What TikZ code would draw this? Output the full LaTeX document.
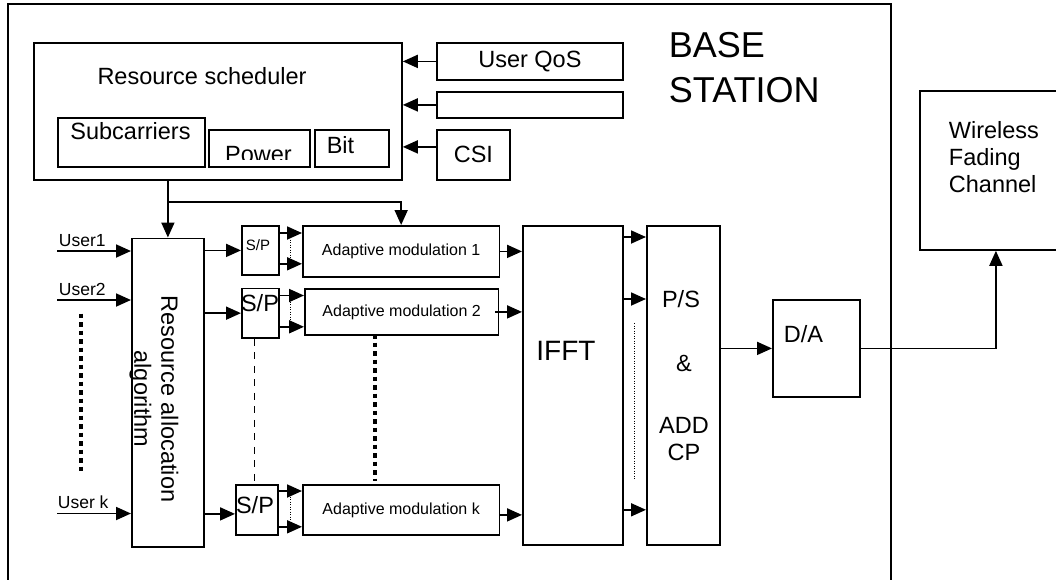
\documentclass[tikz,border=0pt]{standalone}
\usepackage{fontspec}
\setmainfont{Liberation Sans}
\usetikzlibrary{arrows.meta}

\begin{document}
\begin{tikzpicture}[x=1pt, y=-1pt, line width=1.8pt,
    blk/.style={draw, anchor=north west, inner sep=0pt},
    lbl/.style={font=\fontsize{23.5}{27}\selectfont, inner sep=0pt},
    small/.style={font=\fontsize{16}{18}\selectfont, inner sep=0pt},
    usr/.style={font=\fontsize{17.5}{20}\selectfont, inner sep=0pt, anchor=base west},
    arr/.style={-{Triangle[length=15pt, width=13pt]}},
    bigdots/.style={line width=4.5pt, dash pattern=on 4.5pt off 4pt},
    fine/.style={line width=0.9pt, dash pattern=on 1pt off 1.5pt}]
  \useasboundingbox (0,0) rectangle (1056,579);
  % base station frame, open at the bottom
  \draw (8,600) |- (891,4) -- (891,600);
  \node[font=\fontsize{36}{45}\selectfont, inner sep=0pt, anchor=base west] (bstxt) at (668,57)
    {\begin{tabular}[t]{@{}l@{}}BASE\\STATION\end{tabular}};

  % scheduler and its inputs
  \node[blk, minimum width=368pt, minimum height=137pt] (sched) at (33,42) {};
  \node[lbl, anchor=base] (schedtxt) at (202,84.5) {Resource scheduler};
  \node[blk, minimum width=147pt, minimum height=49pt] (subc) at (57,117) {};
  \node[lbl, anchor=base] (subctxt) at (130.5,139) {Subcarriers};
  \node[blk, minimum width=101pt, minimum height=37pt] (pow) at (208,129) {};
  \begin{scope}
    \clip (208,129) rectangle (309,159);
    \node[lbl, anchor=base] (powtxt) at (258.5,162) {Power};
  \end{scope}
  \node[blk, minimum width=74pt, minimum height=37pt] (bit) at (314,129) {};
  \node[lbl, anchor=base] (bittxt) at (340.5,153) {Bit};
  \node[blk, lbl, minimum width=186pt, minimum height=37pt] (qos) at (436,42) {User QoS};
  \node[blk, minimum width=186pt, minimum height=26pt] (blank) at (436,91) {};
  \node[blk, lbl, minimum width=73pt, minimum height=50pt] (csi) at (436,129) {CSI};
  \draw[arr] (qos.west) -- (qos.west -| sched.east);
  \draw[arr] (blank.west) -- (blank.west -| sched.east);
  \draw[arr] ([yshift=8pt]csi.west) -- ([yshift=8pt]csi.west -| sched.east);

  % users and allocation
  \node[blk, minimum width=72pt, minimum height=308.5pt] (raa) at (131,237.5) {};
  \node[lbl, rotate=-90, align=center] (raatxt) at (154,399) {Resource allocation\\algorithm};
  \node[usr] (u1) at (58,246) {User1};
  \node[usr] (u2) at (58,295) {User2};
  \node[usr] (uk) at (57,508) {User k};
  \coordinate (in1) at (57,251);
  \coordinate (in2) at (57,300);
  \coordinate (ink) at (57,513.5);
  \draw[arr] (in1) -- (in1 -| raa.west);
  \draw[arr] (in2) -- (in2 -| raa.west);
  \draw[arr] (ink) -- (ink -| raa.west);
  \draw[bigdots] (81,313.5) -- (81,471);
  \coordinate (split) at (raa.north |- 0,202);
  \draw[arr] (raa.north |- sched.south) -- (raa.north);

  % serial to parallel
  \node[blk, minimum width=37pt, minimum height=49pt] (sp1) at (241,225) {};
  \node[blk, minimum width=37pt, minimum height=49.5pt] (sp2) at (241,287.5) {};
  \node[blk, minimum width=42pt, minimum height=50pt] (spk) at (235,484) {};
  \node[font=\fontsize{15}{18}\selectfont, inner sep=0pt, anchor=base] (sp1txt) at (258,250) {S/P};
  \node[lbl, anchor=base] (sp2txt) at (260,311) {S/P};
  \node[lbl, anchor=base] (spktxt) at (255,513.5) {S/P};
  \draw[arr] (raa.east |- sp1.west) -- (sp1.west);
  \draw[arr] (raa.east |- sp2.west) -- (sp2.west);
  \draw[arr] ([yshift=-4pt]spk.west -| raa.east) -- ([yshift=-4pt]spk.west);
  \draw[line width=1.5pt, dash pattern=on 7pt off 6.5pt] ([xshift=-6pt]sp2.south) -- ([xshift=-6pt]sp2.south |- spk.north);

  % adaptive modulation
  \node[blk, small, minimum width=196.5pt, minimum height=51pt] (am1) at (302,225) {Adaptive modulation 1};
  \node[blk, small, minimum width=193.5pt, minimum height=46pt] (am2) at (304,288) {Adaptive modulation 2};
  \node[blk, small, minimum width=196.5pt, minimum height=50pt] (amk) at (302,484) {Adaptive modulation k};
  \draw[arr] (split) -| (am1.north);
  \draw[arr] ([yshift=-8pt]sp1.north east) -- ([yshift=-8pt]sp1.north east -| am1.west);
  \draw[arr] ([yshift=12pt]sp1.south east) -- ([yshift=12pt]sp1.south east -| am1.west);
  \draw[arr] ([yshift=-8pt]sp2.north east) -- ([yshift=-8pt]sp2.north east -| am2.west);
  \draw[arr] ([yshift=12pt]sp2.south east) -- ([yshift=12pt]sp2.south east -| am2.west);
  \draw[arr] ([yshift=-7pt]spk.north east) -- ([yshift=-7pt]spk.north east -| amk.west);
  \draw[arr] ([yshift=9pt]spk.south east) -- ([yshift=9pt]spk.south east -| amk.west);
  \draw[fine] (290,237) -- (290,258);
  \draw[fine] (290,299) -- (290,321);
  \draw[fine] (290,494) -- (290,521);
  \draw[bigdots] (375,334) -- (375,481);

  % ifft, p/s, d/a
  \node[blk, minimum width=100pt, minimum height=319pt] (ifft) at (522,225) {};
  \node[font=\fontsize{28}{32}\selectfont, inner sep=0pt, anchor=base] (iffttxt) at (566,360) {IFFT};
  \node[blk, minimum width=73pt, minimum height=319pt] (ps) at (646,225) {};
  \node[lbl, anchor=base] (pstxt) at (681,307) {P/S};
  \node[lbl, anchor=base] (andtxt) at (684,371) {\&};
  \node[lbl, anchor=base] (cptxt) at (684,433) {\begin{tabular}[t]{@{}c@{}}ADD\\CP\end{tabular}};
  \draw[arr] (am1.east) -- (am1.east -| ifft.west);
  \draw[arr] ([xshift=-4pt]am2.east) -- (am2.east -| ifft.west);
  \draw[arr] ([yshift=-5pt]amk.east) -- ([yshift=-5pt]amk.east -| ifft.west);
  \draw[arr] ([yshift=-12pt]ifft.north east) -- ([yshift=-12pt]ifft.north east -| ps.west);
  \draw[arr] (ifft.east |- 0,299) -- (ps.west |- 0,299);
  \draw[arr] ([yshift=36pt]ifft.south east) -- ([yshift=36pt]ifft.south east -| ps.west);
  \draw[fine] (634,323) -- (634,480);
  \node[blk, minimum width=87pt, minimum height=97pt] (da) at (772,299) {};
  \node[lbl, anchor=base west] (datxt) at (783,342) {D/A};
  \draw[arr] (ps.east |- da.west) -- (da.west);

  % channel
  \node[blk, minimum width=152pt, minimum height=159pt] (wfc) at (919,90) {};
  \node[lbl, anchor=base west] (wfctxt) at (948,138)
    {\begin{tabular}[t]{@{}l@{}}Wireless\\Fading\\Channel\end{tabular}};
  \draw[arr] (da.east) -| (wfc.south);
\end{tikzpicture}
\end{document}
